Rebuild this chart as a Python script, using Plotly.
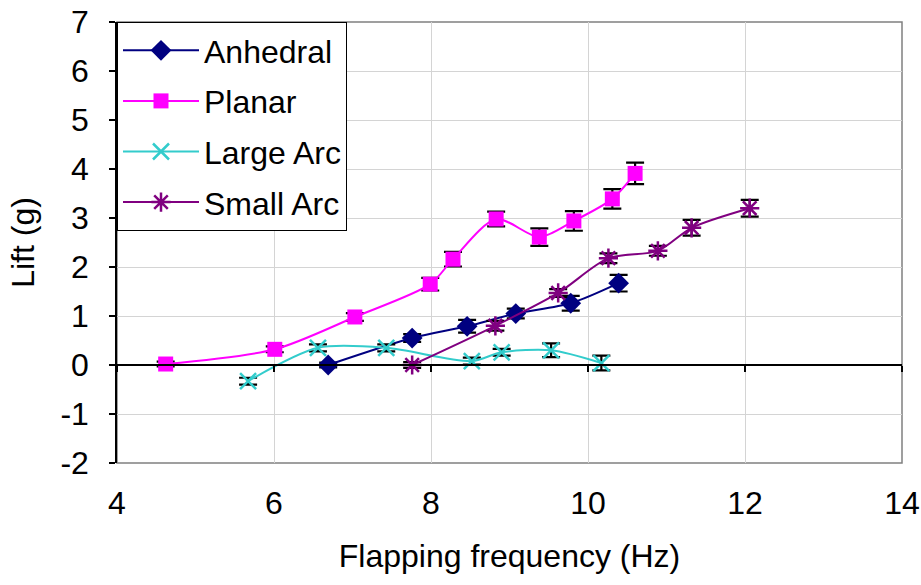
import plotly.graph_objects as go

# ---- data ----
anhedral_x = [6.69, 7.76, 8.46, 9.08, 9.78, 10.39]
anhedral_y = [0.00, 0.55, 0.79, 1.05, 1.26, 1.67]
anhedral_err = [0.05, 0.08, 0.13, 0.10, 0.15, 0.17]

planar_x = [4.62, 6.01, 7.03, 7.99, 8.28, 8.83, 9.38, 9.82, 10.31, 10.60]
planar_y = [0.02, 0.32, 0.98, 1.65, 2.16, 2.98, 2.61, 2.94, 3.39, 3.91]
planar_err = [0.05, 0.06, 0.08, 0.13, 0.15, 0.15, 0.18, 0.20, 0.20, 0.22]

large_x = [5.67, 6.56, 7.43, 8.52, 8.90, 9.53, 10.17]
large_y = [-0.33, 0.35, 0.35, 0.08, 0.26, 0.30, 0.04]
large_err = [0.07, 0.07, 0.07, 0.07, 0.07, 0.14, 0.15]

small_x = [7.76, 8.82, 9.62, 10.26, 10.89, 11.32, 12.06]
small_y = [0.00, 0.80, 1.47, 2.18, 2.33, 2.80, 3.20]
small_err = [0.06, 0.10, 0.08, 0.10, 0.10, 0.16, 0.17]

series = [
    ("Anhedral", anhedral_x, anhedral_y, anhedral_err, "#000080", "diamond", 16, 0),
    ("Planar", planar_x, planar_y, planar_err, "#FF00FF", "square", 15, 0),
    ("Large Arc", large_x, large_y, large_err, "#33CCCC", "x-thin-open", 16, 2.5),
    ("Small Arc", small_x, small_y, small_err, "#800080", "asterisk-open", 16, 2.5),
]

x_ticks = [4, 6, 8, 10, 12, 14]
y_ticks = [-2, -1, 0, 1, 2, 3, 4, 5, 6, 7]
y_tick_text = ["-2", "-1", "0", "1", "2", "3", "4", "5", "6", "7"]

FONT = "Liberation Sans, Arial, sans-serif"
FS = 32

fig = go.Figure()
for i, (name, xs, ys, es, col, sym, sz, lw) in enumerate(series):
    mk = dict(symbol=sym, size=sz, color=col)
    if lw:
        mk["line"] = dict(color=col, width=lw)
    else:
        mk["line"] = dict(width=0)
    fig.add_trace(go.Scatter(
        x=xs, y=ys, name=name, mode="lines+markers",
        line=dict(color=col, width=2, shape="spline", smoothing=0.8),
        marker=mk,
        error_y=dict(type="data", array=es, visible=True, color="black",
                     thickness=2.2, width=9),
        legendgroup=name,
    ))

# dummy trace for the overlay axis at y = 0
fig.add_trace(go.Scatter(x=[None], y=[None], xaxis="x2", showlegend=False,
                         hoverinfo="skip"))

fig.update_layout(
    width=921, height=585,
    margin=dict(l=117, r=19, t=22, b=122, autoexpand=False),
    paper_bgcolor="white", plot_bgcolor="white",
    font=dict(family=FONT, size=FS, color="black"),
    showlegend=True,
    legend=dict(x=0, y=1, xanchor="left", yanchor="top",
                bgcolor="white", bordercolor="black", borderwidth=1,
                font=dict(size=FS), tracegroupgap=6, traceorder="grouped",
                itemwidth=76),
    xaxis=dict(range=[4, 14], tickvals=x_ticks, showgrid=True, automargin=False,
               gridcolor="#d4d4d4", gridwidth=1, zeroline=False,
               showline=False, ticks="", ticklabelstandoff=18,
               title=dict(text="Flapping frequency (Hz)", standoff=24,
                          font=dict(size=FS))),
    xaxis2=dict(range=[4, 14], tickvals=x_ticks, overlaying="x",
                anchor="free", position=2/9, side="bottom", automargin=False,
                showgrid=False, zeroline=False, showline=True,
                linecolor="black", linewidth=1.5, ticks="outside",
                ticklen=6, tickcolor="black", tickwidth=1.5,
                showticklabels=False),
    yaxis=dict(range=[-2, 7], tickvals=y_ticks, ticktext=y_tick_text,
               showgrid=True, automargin=False,
               gridcolor="#d4d4d4", gridwidth=1, zeroline=False,
               showline=True, linecolor="black", linewidth=1.5,
               ticks="outside", ticklen=6, tickcolor="black", tickwidth=1.5,
               ticklabelstandoff=14,
               title=dict(text="Lift (g)", standoff=16, font=dict(size=FS))),
    shapes=[dict(type="rect", xref="x domain", yref="y domain",
                 x0=0, x1=1, y0=0, y1=1,
                 line=dict(color="#808080", width=1.5), layer="below")],
)

fig.write_html("out.html")
